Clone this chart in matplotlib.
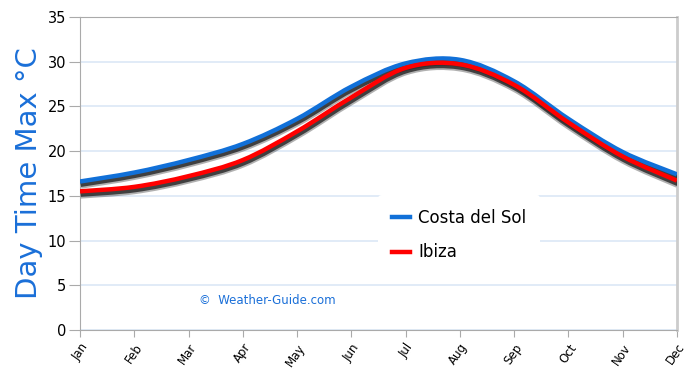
import numpy as np
import matplotlib.pyplot as plt
from matplotlib.path import Path
from matplotlib.patches import PathPatch
import matplotlib.patheffects as pe
from matplotlib.lines import Line2D

months = ["Jan", "Feb", "Mar", "Apr", "May", "Jun",
          "Jul", "Aug", "Sep", "Oct", "Nov", "Dec"]
costa = [16.6, 17.6, 19.0, 20.8, 23.6, 27.2, 29.8, 30.2, 27.8, 23.6, 19.9, 17.4]
ibiza = [15.5, 16.0, 17.2, 19.0, 22.2, 26.0, 29.3, 29.7, 27.4, 23.2, 19.4, 16.7]
series = [("Costa del Sol", costa, "#1170d8"), ("Ibiza", ibiza, "#ff0000")]

plt.rcParams["font.family"] = "DejaVu Sans"

fig = plt.figure(figsize=(6.9, 3.75), dpi=100)
ax = fig.add_axes([0.116, 0.12, 0.865, 0.835])


def spline_path(x, y):
    # cardinal spline as cubic bezier segments
    x = np.asarray(x, float)
    y = np.asarray(y, float)
    verts = [(x[0], y[0])]
    codes = [Path.MOVETO]
    n = len(x)
    for i in range(n - 1):
        x0, y0 = (x[i - 1], y[i - 1]) if i > 0 else (x[i], y[i])
        x3, y3 = (x[i + 2], y[i + 2]) if i + 2 < n else (x[i + 1], y[i + 1])
        c1 = (x[i] + (x[i + 1] - x0) / 6, y[i] + (y[i + 1] - y0) / 6)
        c2 = (x[i + 1] - (x3 - x[i]) / 6, y[i + 1] - (y3 - y[i]) / 6)
        verts += [c1, c2, (x[i + 1], y[i + 1])]
        codes += [Path.CURVE4] * 3
    return Path(verts, codes)


xs = np.arange(len(months))
handles = []
for name, vals, col in series:
    patch = PathPatch(spline_path(xs, vals), facecolor="none", edgecolor=col,
                      lw=3.2, capstyle="butt", zorder=3,
                      path_effects=[
                          pe.SimpleLineShadow(offset=(0.5, -2.5), shadow_color="#222222",
                                              alpha=0.35, linewidth=5.5),
                          pe.SimpleLineShadow(offset=(0.5, -2.2), shadow_color="#111111",
                                              alpha=0.7, linewidth=3.5),
                          pe.Normal()])
    ax.add_patch(patch)
    handles.append(Line2D([], [], color=col, lw=3.2, label=name))

ax.set_xlim(0, 11)
ax.set_ylim(0, 35)
ax.set_yticks(range(0, 36, 5))
ax.set_xticks(xs)
ax.set_xticklabels(months, rotation=55, ha="right", rotation_mode="anchor", fontsize=8.5)
ax.tick_params(axis="y", labelsize=10.5, length=8, color="#aaaaaa", pad=2)
ax.tick_params(axis="x", length=5, color="#aaaaaa", pad=3)
ax.grid(axis="y", color="#dce8f6", lw=1.2)
ax.set_axisbelow(True)
for s in ["left", "bottom", "top"]:
    ax.spines[s].set_color("#aaaaaa")
ax.spines["right"].set_color("#cccccc")
ax.spines["right"].set_linewidth(2)

ax.set_ylabel("Day Time Max °C", fontsize=21, color="#1a6fd8", labelpad=3)

leg = ax.legend(handles=handles, loc="upper left", bbox_to_anchor=(0.5, 0.43),
                frameon=True, fontsize=12, handlelength=1.1, handletextpad=0.5,
                labelspacing=1.0, borderpad=0.8, borderaxespad=0)
leg.get_frame().set_edgecolor("none")
leg.get_frame().set_facecolor("white")
leg.get_frame().set_alpha(1)

ax.text(0.2, 0.082, "©  Weather-Guide.com", transform=ax.transAxes,
        fontsize=8.5, color="#1a6fd8")

fig.savefig("out.png", dpi=100)
